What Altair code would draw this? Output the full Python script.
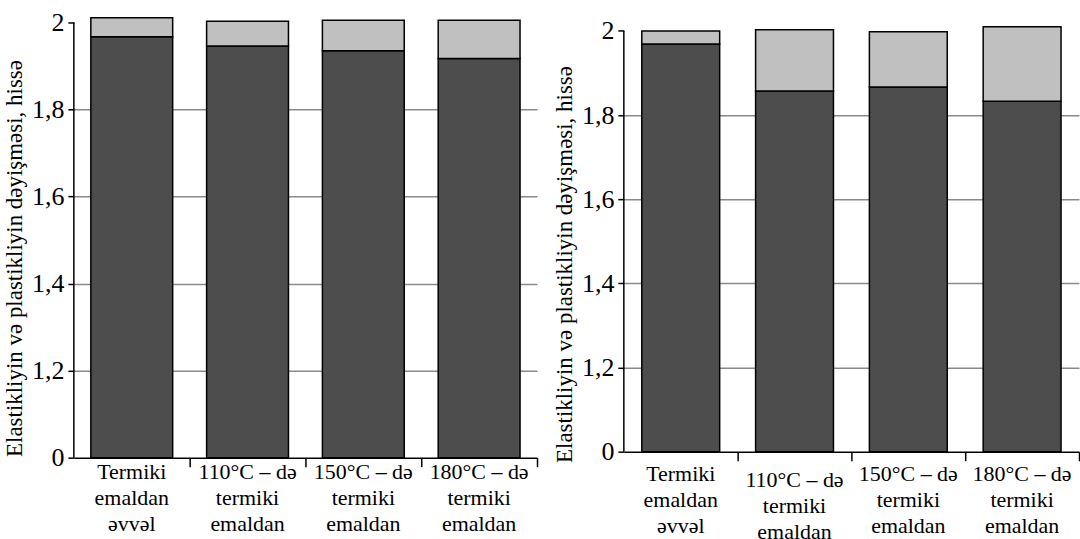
import altair as alt
import pandas as pd

categories = [
    "Termiki|emaldan|əvvəl",
    "110°C – də|termiki|emaldan",
    "150°C – də|termiki|emaldan",
    "180°C – də|termiki|emaldan",
]
left_elastic = [1.967, 1.946, 1.935, 1.917]
left_total = [2.011, 2.003, 2.005, 2.005]
right_elastic = [1.969, 1.857, 1.867, 1.833]
right_total = [2.000, 2.003, 1.998, 2.010]
y_ticks = [1.0, 1.2, 1.4, 1.6, 1.8, 2.0]
y_base = 1.0
y_title = "Elastikliyin və plastikliyin dəyişməsi, hissə"

FONT = "Liberation Serif, Times New Roman, DejaVu Serif, serif"
DARK = "#4d4d4d"
LIGHT = "#c0c0c0"


def panel(elastic, total, width, height, bar_size, y_top, title_y, label_pad):
    df = pd.DataFrame({"cat": categories, "elastic": elastic, "total": total,
                       "base": [y_base] * len(categories)})
    x = alt.X(
        "cat:N",
        sort=categories,
        scale=alt.Scale(paddingInner=0, paddingOuter=0),
        axis=alt.Axis(
            title=None,
            labelAngle=0,
            labelExpr="split(datum.value, '|')",
            labelFont=FONT,
            labelFontSize=22,
            labelLineHeight=26,
            labelColor="black",
            labelPadding=label_pad,
            labelBaseline="top",
            tickSize=9,
            tickColor="black",
            tickWidth=1.5,
            bandPosition=1,
            domainColor="black",
            domainWidth=1.5,
            grid=False,
        ),
    )
    yscale = alt.Scale(domain=[y_base, y_top], zero=False, nice=False)
    yaxis = alt.Axis(
        title=y_title,
        titleFont=FONT,
        titleFontSize=23,
        titleFontWeight="normal",
        titleColor="black",
        titlePadding=5,
        titleY=title_y,
        values=y_ticks,
        labelExpr="datum.value <= 1.0001 ? '0' : replace(format(datum.value, '.1~f'), '.', ',')",
        labelFont=FONT,
        labelFontSize=26,
        labelColor="black",
        labelPadding=4,
        tickSize=6,
        tickColor="black",
        tickWidth=1.5,
        domain=False,
        grid=True,
        gridColor="#8a8a8a",
        gridWidth=1.5,
        gridOpacity={"condition": {"test": "datum.value >= 1.99 || datum.value <= 1.01", "value": 0}, "value": 1},
    )
    ydomain = alt.Chart(pd.DataFrame({"lo": [y_base], "hi": [max(y_ticks)]})).mark_rule(
        color="black", strokeWidth=1.5
    ).encode(x=alt.value(0), y=alt.Y("lo:Q", scale=yscale, axis=yaxis), y2="hi:Q")
    dark = alt.Chart(df).mark_bar(
        color=DARK, stroke="black", strokeWidth=1.5, size=bar_size, clip=False
    ).encode(x=x, y=alt.Y("elastic:Q", scale=yscale, axis=yaxis), y2="base:Q")
    light = alt.Chart(df).mark_bar(
        color=LIGHT, stroke="black", strokeWidth=1.5, size=bar_size, clip=False
    ).encode(x=x, y=alt.Y("elastic:Q", scale=yscale, axis=yaxis), y2="total:Q")
    return alt.layer(dark, light, ydomain).properties(width=width, height=height)


left = panel(left_elastic, left_total, 464, 436, 82, 2.0, 236, -5)
right = panel(
    right_elastic, right_total, 456, 430, 78, 2.0201, 242,
    {"condition": {"test": "indexof(datum.value, '110') >= 0", "value": 9}, "value": 3},
)

chart = alt.hconcat(left, right, spacing=15).configure_view(stroke=None).properties(
    padding={"left": 3, "top": 9, "right": 0, "bottom": 0},
    background="white",
)

chart.save("out.html", embed_options={"renderer": "svg", "actions": False})
